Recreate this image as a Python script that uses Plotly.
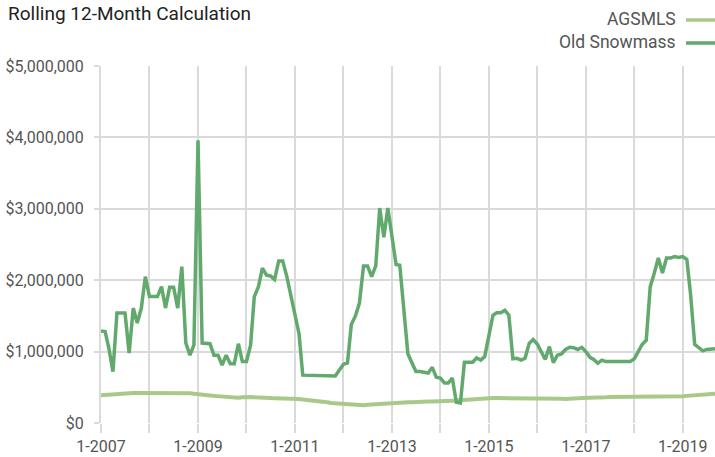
import pandas as pd
import plotly.graph_objects as go

title_text = "Rolling 12-Month Calculation"
series_names = ["AGSMLS", "Old Snowmass"]
start_month = "2007-01-01"

# Rolling 12-month values in $ millions, monthly from Jan 2007
agsmls = [
    0.39, 0.395, 0.40, 0.405, 0.41, 0.41, 0.415, 0.415, 0.42, 0.42, 0.42, 0.42,
    0.42, 0.425, 0.425, 0.425, 0.425, 0.425, 0.425, 0.42, 0.42, 0.42, 0.415, 0.41,
    0.40, 0.395, 0.39, 0.385, 0.38, 0.375, 0.37, 0.365, 0.36, 0.36, 0.355, 0.36,
    0.365, 0.365, 0.36, 0.36, 0.355, 0.35, 0.35, 0.345, 0.345, 0.345, 0.345, 0.34,
    0.34, 0.335, 0.33, 0.325, 0.32, 0.31, 0.305, 0.30, 0.29, 0.28, 0.275, 0.27,
    0.265, 0.26, 0.255, 0.25, 0.25, 0.25, 0.255, 0.26, 0.26, 0.265, 0.27, 0.27,
    0.275, 0.28, 0.285, 0.29, 0.29, 0.29, 0.295, 0.295, 0.30, 0.30, 0.30, 0.30,
    0.305, 0.31, 0.31, 0.31, 0.315, 0.32, 0.32, 0.325, 0.33, 0.33, 0.335, 0.34,
    0.345, 0.35, 0.35, 0.35, 0.345, 0.345, 0.345, 0.34, 0.34, 0.345, 0.345, 0.34,
    0.34, 0.345, 0.345, 0.34, 0.345, 0.345, 0.34, 0.335, 0.335, 0.34, 0.345, 0.35,
    0.35, 0.355, 0.355, 0.36, 0.36, 0.36, 0.365, 0.365, 0.37, 0.37, 0.37, 0.37,
    0.37, 0.37, 0.37, 0.37, 0.37, 0.37, 0.37, 0.375, 0.375, 0.375, 0.37, 0.37,
    0.375, 0.38, 0.385, 0.39, 0.395, 0.40, 0.40, 0.405, 0.41,
]
old_snowmass = [
    1.29, 1.28, 1.05, 0.72, 1.54, 1.54, 1.54, 0.98, 1.61, 1.40, 1.61, 2.05,
    1.77, 1.77, 1.77, 1.91, 1.61, 1.90, 1.90, 1.61, 2.19, 1.12, 0.95, 1.09,
    3.96, 1.12, 1.11, 1.11, 0.95, 0.95, 0.81, 0.95, 0.83, 0.83, 1.11, 0.86,
    0.86, 1.09, 1.77, 1.91, 2.17, 2.07, 2.06, 2.01, 2.27, 2.27, 2.05, 1.80,
    1.54, 1.25, 0.67, 0.67, 0.67, 0.66, 0.66, 0.66, 0.67, 0.66, 0.66, 0.74,
    0.82, 0.84, 1.38, 1.50, 1.68, 2.20, 2.20, 2.05, 2.20, 3.01, 2.60, 3.01,
    2.60, 2.22, 2.21, 1.60, 0.97, 0.84, 0.72, 0.72, 0.71, 0.70, 0.78, 0.64,
    0.63, 0.56, 0.56, 0.63, 0.29, 0.28, 0.85, 0.85, 0.85, 0.91, 0.88, 0.93,
    1.25, 1.51, 1.545, 1.545, 1.58, 1.51, 0.90, 0.906, 0.88, 0.906, 1.116, 1.17,
    1.106, 1.00, 0.89, 1.07, 0.845, 0.95, 0.966, 1.03, 1.06, 1.055, 1.03, 1.06,
    1.00, 0.92, 0.89, 0.836, 0.88, 0.86, 0.86, 0.86, 0.87, 0.87, 0.86, 0.86,
    0.90, 1.02, 1.10, 1.16, 1.91, 2.10, 2.31, 2.10, 2.31, 2.31, 2.33, 2.32,
    2.33, 2.29, 1.80, 1.10, 1.06, 1.01, 1.03, 1.03, 1.04,
]
y_tick_values = [0, 1e6, 2e6, 3e6, 4e6, 5e6]
y_tick_labels = ["$0", "$1,000,000", "$2,000,000", "$3,000,000", "$4,000,000", "$5,000,000"]

dates = pd.date_range(start_month, periods=len(old_snowmass), freq="MS")
colors = {"AGSMLS": "#a9c98b", "Old Snowmass": "#62a96d"}
FONT = "Roboto, Arial, sans-serif"
GRID = "#dadada"
TEXT = "#555555"

fig = go.Figure()
fig.add_trace(go.Scatter(x=dates, y=[v * 1e6 for v in agsmls], mode="lines",
                         name="AGSMLS", line=dict(color=colors["AGSMLS"], width=4)))
fig.add_trace(go.Scatter(x=dates, y=[v * 1e6 for v in old_snowmass], mode="lines",
                         name="Old Snowmass", line=dict(color=colors["Old Snowmass"], width=3.5)))

W, H = 715, 457
L, R, T, B = 101, 0, 66, 34
pw, ph = W - L - R, H - T - B

def px_x(p):
    return (p - L) / pw

def px_y(p):
    return (H - B - p) / ph

fig.update_layout(
    width=W, height=H,
    margin=dict(l=L, r=R, t=T, b=B, autoexpand=False),
    paper_bgcolor="white", plot_bgcolor="white",
    showlegend=False,
    font=dict(family=FONT, color=TEXT),
    title=dict(text=title_text, x=8 / W, xanchor="left", xref="container",
               y=1 - 13 / H, yanchor="middle", yref="container",
               font=dict(family=FONT, size=19, color="#222222")),
    xaxis=dict(
        range=[dates[0], dates[-1]],
        tickmode="linear", tick0=start_month, dtick="M24",
        tickformat="%-m-%Y",
        showgrid=True, gridcolor=GRID, gridwidth=2,
        ticks="outside", ticklen=9, tickcolor=GRID, tickwidth=2,
        minor=dict(dtick="M12", tick0=start_month, showgrid=True, gridcolor=GRID, gridwidth=2,
                   ticks="outside", ticklen=9, tickcolor=GRID, tickwidth=2),
        showline=False, zeroline=False,
        tickfont=dict(family=FONT, size=16, color=TEXT),
    ),
    yaxis=dict(
        range=[0, 5e6],
        tickmode="array", tickvals=y_tick_values, ticktext=y_tick_labels,
        showgrid=True, gridcolor=GRID, gridwidth=2,
        ticks="outside", ticklen=5, tickcolor=GRID, tickwidth=2,
        ticklabelstandoff=7,
        showline=True, linecolor=GRID, linewidth=2,
        zeroline=False,
        tickfont=dict(family=FONT, size=16, color=TEXT),
    ),
)

# custom legend (text right-aligned, line sample on right)
for name, ypix in [("AGSMLS", 19), ("Old Snowmass", 42)]:
    fig.add_annotation(text=name, xref="paper", yref="paper", x=px_x(678), y=px_y(ypix),
                       xanchor="right", yanchor="middle", showarrow=False,
                       font=dict(family=FONT, size=17.5, color=TEXT))
    fig.add_shape(type="line", xref="paper", yref="paper",
                  x0=px_x(686), x1=px_x(715), y0=px_y(ypix + 1), y1=px_y(ypix + 1),
                  line=dict(color=colors[name], width=3.5))

fig.write_html("out.html", config={"displayModeBar": False},
               post_script="document.body.style.margin='0';")
